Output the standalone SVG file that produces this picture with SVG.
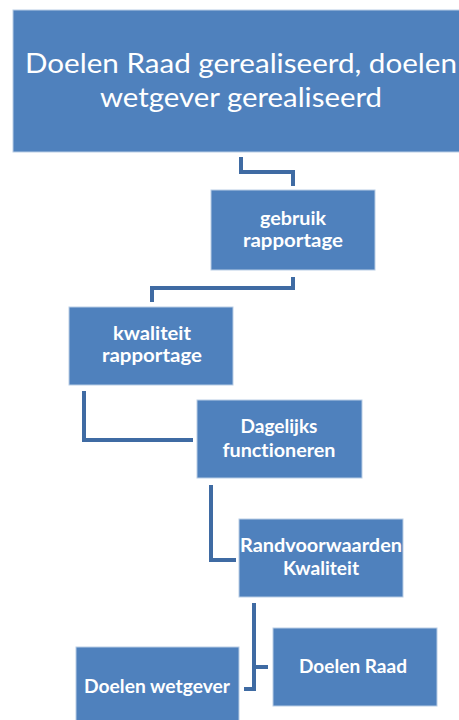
<svg xmlns="http://www.w3.org/2000/svg" width="459" height="720" viewBox="0 0 459 720">
  <style>
    .box { fill: #4f81bd; stroke: #b9cde5; stroke-width: 1; }
    .lbl { fill: #ffffff; font-family: Lato, "Open Sans", "Liberation Sans", sans-serif; text-anchor: middle; font-variant-ligatures: none; }
    .big { font-size: 27px; }
    .small { font-size: 18.5px; font-weight: bold; }
    .conn { fill: none; stroke: #3f6ba3; stroke-width: 4; stroke-linejoin: miter; stroke-linecap: butt; }
  </style>
  <rect width="459" height="720" fill="#ffffff"/>

  <g id="connectors">
    <path class="conn" d="M241,157 V172 H293 V186"/>
    <path class="conn" d="M293,277 V288 H152 V302"/>
    <path class="conn" d="M84,391 V440 H193"/>
    <path class="conn" d="M211,485 V560 H236"/>
    <path class="conn" d="M254,603 V689 H244"/>
    <path class="conn" d="M254,667 H268"/>
  </g>

  <g id="doelen-gerealiseerd">
    <rect class="box" x="13" y="10" width="452" height="142"/>
    <text class="lbl big" x="241" y="73" textLength="432" lengthAdjust="spacingAndGlyphs">Doelen Raad gerealiseerd, doelen</text>
    <text class="lbl big" x="241" y="107" textLength="282" lengthAdjust="spacingAndGlyphs">wetgever gerealiseerd</text>
  </g>

  <g id="gebruik-rapportage">
    <rect class="box" x="211" y="190" width="164" height="80"/>
    <text class="lbl small" x="293" y="225" textLength="66" lengthAdjust="spacingAndGlyphs">gebruik</text>
    <text class="lbl small" x="293" y="247" textLength="100" lengthAdjust="spacingAndGlyphs">rapportage</text>
  </g>

  <g id="kwaliteit-rapportage">
    <rect class="box" x="69" y="307" width="164" height="78"/>
    <text class="lbl small" x="152" y="340" textLength="78" lengthAdjust="spacingAndGlyphs">kwaliteit</text>
    <text class="lbl small" x="152" y="362" textLength="100" lengthAdjust="spacingAndGlyphs">rapportage</text>
  </g>

  <g id="dagelijks-functioneren">
    <rect class="box" x="197" y="400" width="165" height="78"/>
    <text class="lbl small" x="279" y="433" textLength="77" lengthAdjust="spacingAndGlyphs">Dagelijks</text>
    <text class="lbl small" x="279" y="457" textLength="113" lengthAdjust="spacingAndGlyphs">functioneren</text>
  </g>

  <g id="randvoorwaarden-kwaliteit">
    <rect class="box" x="239" y="519" width="164" height="78"/>
    <text class="lbl small" x="321" y="552" textLength="162" lengthAdjust="spacingAndGlyphs">Randvoorwaarden</text>
    <text class="lbl small" x="321" y="575" textLength="76" lengthAdjust="spacingAndGlyphs">Kwaliteit</text>
  </g>

  <g id="doelen-raad">
    <rect class="box" x="273" y="628" width="164" height="78"/>
    <text class="lbl small" x="353" y="673" textLength="108" lengthAdjust="spacingAndGlyphs">Doelen Raad</text>
  </g>

  <g id="doelen-wetgever">
    <rect class="box" x="76" y="647" width="163" height="80"/>
    <text class="lbl small" x="157" y="693" textLength="146" lengthAdjust="spacingAndGlyphs">Doelen wetgever</text>
  </g>
</svg>
